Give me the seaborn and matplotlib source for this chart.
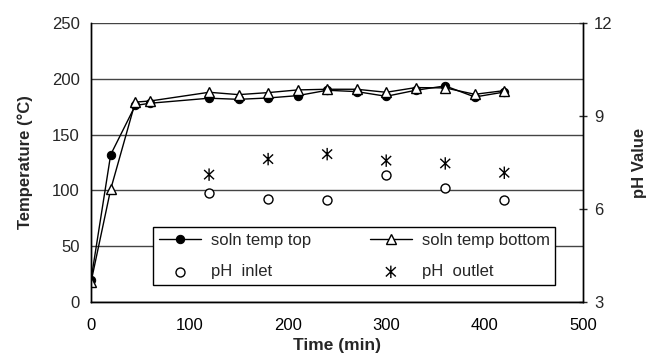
import numpy as np
import pandas as pd
import seaborn as sns
import matplotlib.pyplot as plt
from matplotlib.path import Path

# temperature series (deg C)
time_temp = [0, 20, 45, 60, 120, 150, 180, 210, 240, 270, 300, 330, 360, 390, 420]
temp_top = [20, 132, 176, 178, 182.5, 181.5, 182.7, 184.8, 189.6, 188.4, 184.2, 189.6, 193.5, 183.6, 188]
temp_bottom = [18, 101, 179, 180, 187.8, 185.7, 187.5, 189.9, 190.5, 190.5, 187.8, 192, 191.7, 186, 189.3]

# pH series
time_ph = [120, 180, 240, 300, 360, 420]
ph_inlet = [6.53, 6.33, 6.29, 7.09, 6.68, 6.29]
ph_outlet = [7.11, 7.61, 7.77, 7.56, 7.47, 7.17]

sns.set_style("white")
plt.rcParams['font.family'] = ['Liberation Sans', 'DejaVu Sans']

df_temp = pd.DataFrame({"time": time_temp, "top": temp_top, "bottom": temp_bottom})
df_ph = pd.DataFrame({"time": time_ph, "inlet": ph_inlet, "outlet": ph_outlet})

# excel style asterisk: x plus a vertical bar
star = Path([(0, -1), (0, 1), (-0.8, -0.75), (0.8, 0.75), (-0.8, 0.75), (0.8, -0.75)],
            [Path.MOVETO, Path.LINETO, Path.MOVETO, Path.LINETO, Path.MOVETO, Path.LINETO])

fig = plt.figure(figsize=(6.57, 3.56), dpi=100)
ax = fig.add_axes([0.1385, 0.1508, 0.7489, 0.7854])
ax2 = ax.twinx()

sns.lineplot(data=df_temp, x="time", y="top", ax=ax, color="black", lw=1,
             marker="o", markersize=6, markerfacecolor="black", markeredgecolor="black",
             label="soln temp top", legend=False)
sns.lineplot(data=df_temp, x="time", y="bottom", ax=ax, color="black", lw=1,
             marker="^", markersize=7.5, markerfacecolor="white", markeredgecolor="black",
             markeredgewidth=1, label="soln temp bottom", legend=False)

sns.scatterplot(data=df_ph, x="time", y="inlet", ax=ax2, marker="o", s=42,
                facecolor="white", edgecolor="black", linewidth=1, label="pH  inlet", legend=False)
sns.scatterplot(data=df_ph, x="time", y="outlet", ax=ax2, marker=star, s=80,
                facecolor="none", edgecolor="black", linewidth=1, label="pH  outlet", legend=False)

ax.set_xlim(0, 500)
ax.set_ylim(0, 250)
ax2.set_ylim(3, 12)
ax.set_xticks([0, 100, 200, 300, 400, 500])
ax.set_yticks([0, 50, 100, 150, 200, 250])
ax2.set_yticks([3, 6, 9, 12])

ax.grid(axis="y", color="#444444", lw=1)
ax.set_axisbelow(True)

for a in (ax, ax2):
    a.spines["top"].set_visible(False)
    for s in ("left", "right", "bottom"):
        a.spines[s].set_color("black")
        a.spines[s].set_linewidth(1)

ax.tick_params(axis="x", direction="in", length=4, width=1, labelsize=12, pad=11, colors="black")
ax.tick_params(axis="y", length=0, labelsize=12, pad=8)
ax2.tick_params(axis="y", direction="inout", length=6, width=1, labelsize=12, pad=5)

ax.set_xlabel("Time (min)", fontsize=12.5, fontweight="bold", labelpad=4)
ax.set_ylabel("Temperature (\u00b0C)", fontsize=12, fontweight="bold", labelpad=14)
ax2.set_ylabel("pH Value", fontsize=12, fontweight="bold", labelpad=14)

h1, l1 = ax.get_legend_handles_labels()
h2, l2 = ax2.get_legend_handles_labels()
handles = [h1[0], h2[0], h1[1], h2[1]]
labels = [l1[0], l2[0], l1[1], l2[1]]
leg = ax2.legend(handles, labels, ncol=2, loc="lower left", mode="expand",
                 bbox_to_anchor=(0.11, 0.032, 0.851, 0.244), fontsize=12,
                 frameon=True, fancybox=False, framealpha=1, edgecolor="black",
                 handlelength=2.5, handletextpad=0.6, borderpad=0.35, labelspacing=1.0)
leg.get_frame().set_linewidth(1)

plt.savefig("out.png", dpi=100)
